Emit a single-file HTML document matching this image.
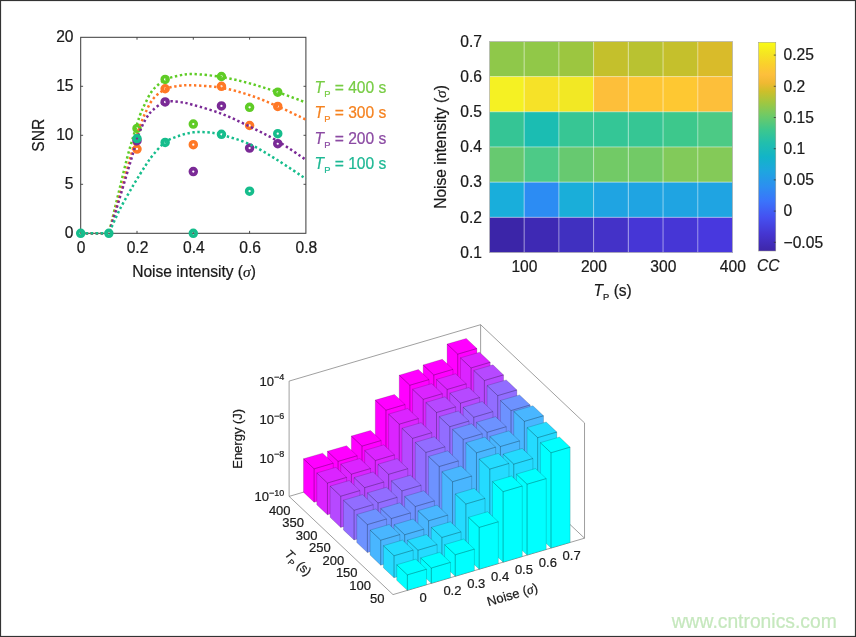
<!DOCTYPE html>
<html lang="en"><head><meta charset="utf-8"><title>Figure</title>
<style>html,body{margin:0;padding:0;background:#fff;}svg{display:block;font-family:'Liberation Sans', Arial, Helvetica, sans-serif;will-change:transform;}</style></head><body>
<svg width="856" height="637" viewBox="0 0 856 637">
<rect x="0" y="0" width="856" height="637" fill="#fff"/>
<g id="snr">
<rect x="80.7" y="37.3" width="225.2" height="196.0" fill="none" stroke="#3a3a3a" stroke-width="1"/>
<path d="M137.0 233.3v-2.4M137.0 37.3v2.4M193.3 233.3v-2.4M193.3 37.3v2.4M249.6 233.3v-2.4M249.6 37.3v2.4M80.7 184.3h2.4M305.9 184.3h-2.4M80.7 135.3h2.4M305.9 135.3h-2.4M80.7 86.3h2.4M305.9 86.3h-2.4" stroke="#3a3a3a" stroke-width="0.9" fill="none"/>
<text x="81.2" y="253.2" font-size="15.6" text-anchor="middle" fill="#1a1a1a" stroke="#1a1a1a" stroke-width="0.22">0</text>
<text x="137.5" y="253.2" font-size="15.6" text-anchor="middle" fill="#1a1a1a" stroke="#1a1a1a" stroke-width="0.22">0.2</text>
<text x="193.8" y="253.2" font-size="15.6" text-anchor="middle" fill="#1a1a1a" stroke="#1a1a1a" stroke-width="0.22">0.4</text>
<text x="250.1" y="253.2" font-size="15.6" text-anchor="middle" fill="#1a1a1a" stroke="#1a1a1a" stroke-width="0.22">0.6</text>
<text x="306.4" y="253.2" font-size="15.6" text-anchor="middle" fill="#1a1a1a" stroke="#1a1a1a" stroke-width="0.22">0.8</text>
<text x="73.5" y="238.2" font-size="15.6" text-anchor="end" fill="#1a1a1a" stroke="#1a1a1a" stroke-width="0.22">0</text>
<text x="73.5" y="189.2" font-size="15.6" text-anchor="end" fill="#1a1a1a" stroke="#1a1a1a" stroke-width="0.22">5</text>
<text x="73.5" y="140.2" font-size="15.6" text-anchor="end" fill="#1a1a1a" stroke="#1a1a1a" stroke-width="0.22">10</text>
<text x="73.5" y="91.2" font-size="15.6" text-anchor="end" fill="#1a1a1a" stroke="#1a1a1a" stroke-width="0.22">15</text>
<text x="73.5" y="42.2" font-size="15.6" text-anchor="end" fill="#1a1a1a" stroke="#1a1a1a" stroke-width="0.22">20</text>
<text x="194" y="277.2" font-size="15.6" text-anchor="middle" fill="#1a1a1a" stroke="#1a1a1a" stroke-width="0.22">Noise intensity (<tspan font-family="'Liberation Serif','DejaVu Serif',serif" font-style="italic" font-size="15.4">σ</tspan>)</text>
<text transform="translate(44.3 135.3) rotate(-90)" font-size="15.6" text-anchor="middle" fill="#1a1a1a" stroke="#1a1a1a" stroke-width="0.22">SNR</text>
<path d="M80.70 233.30L108.85 233.30C109.84 229.22 112.79 216.97 114.76 208.80C116.73 200.63 118.61 192.79 120.67 184.30C122.74 175.81 124.99 166.01 127.15 157.84C129.31 149.67 131.51 142.32 133.62 135.30C135.73 128.28 137.84 121.09 139.81 115.70C141.79 110.31 143.24 107.29 145.44 102.96C147.65 98.63 149.76 93.57 153.05 89.73C156.33 85.89 160.79 82.30 165.15 79.93C169.51 77.56 174.53 76.50 179.22 75.52C183.92 74.54 186.26 73.81 193.30 74.05C200.34 74.30 212.07 75.44 221.45 76.99C230.83 78.54 240.22 80.83 249.60 83.36C258.98 85.89 268.37 89.00 277.75 92.18C287.13 95.37 301.21 100.76 305.90 102.47" fill="none" stroke="#5fcc26" stroke-width="2.5" stroke-dasharray="2.4 2.6"/>
<circle cx="137.00" cy="128.44" r="2.95" fill="none" stroke="#5fcc26" stroke-width="3.6"/>
<circle cx="165.15" cy="79.44" r="2.95" fill="none" stroke="#5fcc26" stroke-width="3.6"/>
<circle cx="193.30" cy="124.03" r="2.95" fill="none" stroke="#5fcc26" stroke-width="3.6"/>
<circle cx="221.45" cy="76.50" r="2.95" fill="none" stroke="#5fcc26" stroke-width="3.6"/>
<circle cx="249.60" cy="107.37" r="2.95" fill="none" stroke="#5fcc26" stroke-width="3.6"/>
<circle cx="277.75" cy="92.18" r="2.95" fill="none" stroke="#5fcc26" stroke-width="3.6"/>
<path d="M80.70 233.30L108.85 233.30C110.02 229.22 113.54 216.97 115.89 208.80C118.23 200.63 120.58 192.63 122.92 184.30C125.27 175.97 127.62 166.99 129.96 158.82C132.31 150.65 135.36 140.69 137.00 135.30C138.64 129.91 138.41 130.24 139.81 126.48C141.22 122.72 143.24 117.33 145.44 112.76C147.65 108.19 149.76 102.96 153.05 99.04C156.33 95.12 160.79 91.45 165.15 89.24C169.51 87.04 174.53 86.46 179.22 85.81C183.92 85.16 186.26 84.99 193.30 85.32C200.34 85.65 212.07 86.14 221.45 87.77C230.83 89.40 240.22 92.02 249.60 95.12C258.98 98.22 268.37 102.31 277.75 106.39C287.13 110.47 301.21 117.42 305.90 119.62" fill="none" stroke="#ff7826" stroke-width="2.5" stroke-dasharray="2.4 2.6"/>
<circle cx="137.00" cy="149.02" r="2.95" fill="none" stroke="#ff7826" stroke-width="3.6"/>
<circle cx="165.15" cy="88.75" r="2.95" fill="none" stroke="#ff7826" stroke-width="3.6"/>
<circle cx="193.30" cy="144.71" r="2.95" fill="none" stroke="#ff7826" stroke-width="3.6"/>
<circle cx="221.45" cy="86.30" r="2.95" fill="none" stroke="#ff7826" stroke-width="3.6"/>
<circle cx="249.60" cy="125.50" r="2.95" fill="none" stroke="#ff7826" stroke-width="3.6"/>
<circle cx="277.75" cy="106.39" r="2.95" fill="none" stroke="#ff7826" stroke-width="3.6"/>
<path d="M80.70 233.30L108.85 233.30C110.12 229.22 113.96 216.97 116.45 208.80C118.94 200.63 121.28 192.63 123.77 184.30C126.26 175.97 128.93 166.99 131.37 158.82C133.81 150.65 136.06 141.83 138.41 135.30C140.75 128.77 143.01 123.87 145.44 119.62C147.88 115.37 149.76 112.76 153.05 109.82C156.33 106.88 160.79 103.29 165.15 101.98C169.51 100.67 174.53 101.49 179.22 101.98C183.92 102.47 186.26 102.96 193.30 104.92C200.34 106.88 212.07 110.15 221.45 113.74C230.83 117.33 240.22 121.91 249.60 126.48C258.98 131.05 268.37 135.63 277.75 141.18C287.13 146.73 301.21 156.70 305.90 159.80" fill="none" stroke="#7a2a96" stroke-width="2.5" stroke-dasharray="2.4 2.6"/>
<circle cx="137.00" cy="140.69" r="2.95" fill="none" stroke="#7a2a96" stroke-width="3.6"/>
<circle cx="165.15" cy="101.98" r="2.95" fill="none" stroke="#7a2a96" stroke-width="3.6"/>
<circle cx="193.30" cy="171.56" r="2.95" fill="none" stroke="#7a2a96" stroke-width="3.6"/>
<circle cx="221.45" cy="105.90" r="2.95" fill="none" stroke="#7a2a96" stroke-width="3.6"/>
<circle cx="249.60" cy="148.04" r="2.95" fill="none" stroke="#7a2a96" stroke-width="3.6"/>
<circle cx="277.75" cy="143.63" r="2.95" fill="none" stroke="#7a2a96" stroke-width="3.6"/>
<path d="M80.70 233.30L108.85 233.30C110.73 229.22 115.93 216.97 120.11 208.80C124.29 200.63 129.68 191.49 133.90 184.30C138.13 177.11 142.25 170.58 145.44 165.68C148.64 160.78 149.76 158.82 153.05 154.90C156.33 150.98 160.79 145.34 165.15 142.16C169.51 138.97 174.53 137.42 179.22 135.79C183.92 134.16 188.61 132.93 193.30 132.36C197.99 131.79 202.68 131.95 207.38 132.36C212.07 132.77 214.41 132.85 221.45 134.81C228.49 136.77 240.22 139.87 249.60 144.12C258.98 148.37 268.37 154.49 277.75 160.29C287.13 166.09 301.21 175.81 305.90 178.91" fill="none" stroke="#16bd8c" stroke-width="2.5" stroke-dasharray="2.4 2.6"/>
<circle cx="80.70" cy="233.30" r="2.95" fill="none" stroke="#16bd8c" stroke-width="3.6"/>
<circle cx="108.85" cy="233.30" r="2.95" fill="none" stroke="#16bd8c" stroke-width="3.6"/>
<circle cx="137.00" cy="138.53" r="2.95" fill="none" stroke="#16bd8c" stroke-width="3.6"/>
<circle cx="165.15" cy="142.45" r="2.95" fill="none" stroke="#16bd8c" stroke-width="3.6"/>
<circle cx="193.30" cy="233.30" r="2.95" fill="none" stroke="#16bd8c" stroke-width="3.6"/>
<circle cx="221.45" cy="134.32" r="2.95" fill="none" stroke="#16bd8c" stroke-width="3.6"/>
<circle cx="249.60" cy="191.16" r="2.95" fill="none" stroke="#16bd8c" stroke-width="3.6"/>
<circle cx="277.75" cy="133.63" r="2.95" fill="none" stroke="#16bd8c" stroke-width="3.6"/>
<text x="314.6" y="93.0" font-size="15.6" fill="#77cc44" stroke="#77cc44" stroke-width="0.22"><tspan font-style="italic">T</tspan><tspan font-size="9.4" dy="3.8">P</tspan><tspan dy="-3.8"> = 400 s</tspan></text>
<text x="314.6" y="118.4" font-size="15.6" fill="#f5821f" stroke="#f5821f" stroke-width="0.22"><tspan font-style="italic">T</tspan><tspan font-size="9.4" dy="3.8">P</tspan><tspan dy="-3.8"> = 300 s</tspan></text>
<text x="314.6" y="143.8" font-size="15.6" fill="#8b4aa3" stroke="#8b4aa3" stroke-width="0.22"><tspan font-style="italic">T</tspan><tspan font-size="9.4" dy="3.8">P</tspan><tspan dy="-3.8"> = 200 s</tspan></text>
<text x="314.6" y="169.2" font-size="15.6" fill="#1db894" stroke="#1db894" stroke-width="0.22"><tspan font-style="italic">T</tspan><tspan font-size="9.4" dy="3.8">P</tspan><tspan dy="-3.8"> = 100 s</tspan></text>
</g>
<g id="heat">
<rect x="489.40" y="41.40" width="35.03" height="35.48" fill="#8fc84a"/>
<rect x="524.13" y="41.40" width="35.03" height="35.48" fill="#91c848"/>
<rect x="558.86" y="41.40" width="35.03" height="35.48" fill="#9cc640"/>
<rect x="593.59" y="41.40" width="35.03" height="35.48" fill="#c4c02c"/>
<rect x="628.31" y="41.40" width="35.03" height="35.48" fill="#b9c231"/>
<rect x="663.04" y="41.40" width="35.03" height="35.48" fill="#c5c02c"/>
<rect x="697.77" y="41.40" width="35.03" height="35.48" fill="#d9bb2a"/>
<rect x="489.40" y="76.58" width="35.03" height="35.48" fill="#f5f123"/>
<rect x="524.13" y="76.58" width="35.03" height="35.48" fill="#f6e228"/>
<rect x="558.86" y="76.58" width="35.03" height="35.48" fill="#f2e824"/>
<rect x="593.59" y="76.58" width="35.03" height="35.48" fill="#fdbf3a"/>
<rect x="628.31" y="76.58" width="35.03" height="35.48" fill="#fec634"/>
<rect x="663.04" y="76.58" width="35.03" height="35.48" fill="#fec832"/>
<rect x="697.77" y="76.58" width="35.03" height="35.48" fill="#fdbf3a"/>
<rect x="489.40" y="111.77" width="35.03" height="35.48" fill="#35c595"/>
<rect x="524.13" y="111.77" width="35.03" height="35.48" fill="#1bbdb2"/>
<rect x="558.86" y="111.77" width="35.03" height="35.48" fill="#37c694"/>
<rect x="593.59" y="111.77" width="35.03" height="35.48" fill="#34c696"/>
<rect x="628.31" y="111.77" width="35.03" height="35.48" fill="#36c694"/>
<rect x="663.04" y="111.77" width="35.03" height="35.48" fill="#3dc88c"/>
<rect x="697.77" y="111.77" width="35.03" height="35.48" fill="#4cca85"/>
<rect x="489.40" y="146.95" width="35.03" height="35.48" fill="#67c970"/>
<rect x="524.13" y="146.95" width="35.03" height="35.48" fill="#4dca87"/>
<rect x="558.86" y="146.95" width="35.03" height="35.48" fill="#67c970"/>
<rect x="593.59" y="146.95" width="35.03" height="35.48" fill="#72ca66"/>
<rect x="628.31" y="146.95" width="35.03" height="35.48" fill="#72ca66"/>
<rect x="663.04" y="146.95" width="35.03" height="35.48" fill="#82ca5a"/>
<rect x="697.77" y="146.95" width="35.03" height="35.48" fill="#84ca58"/>
<rect x="489.40" y="182.13" width="35.03" height="35.48" fill="#19aedb"/>
<rect x="524.13" y="182.13" width="35.03" height="35.48" fill="#2c8cf3"/>
<rect x="558.86" y="182.13" width="35.03" height="35.48" fill="#1aaed9"/>
<rect x="593.59" y="182.13" width="35.03" height="35.48" fill="#1fa4e2"/>
<rect x="628.31" y="182.13" width="35.03" height="35.48" fill="#1fa4e2"/>
<rect x="663.04" y="182.13" width="35.03" height="35.48" fill="#1fa4e2"/>
<rect x="697.77" y="182.13" width="35.03" height="35.48" fill="#1fa4e2"/>
<rect x="489.40" y="217.32" width="35.03" height="35.48" fill="#3b25a8"/>
<rect x="524.13" y="217.32" width="35.03" height="35.48" fill="#3e29b4"/>
<rect x="558.86" y="217.32" width="35.03" height="35.48" fill="#4030c0"/>
<rect x="593.59" y="217.32" width="35.03" height="35.48" fill="#4432c8"/>
<rect x="628.31" y="217.32" width="35.03" height="35.48" fill="#4636d6"/>
<rect x="663.04" y="217.32" width="35.03" height="35.48" fill="#4636d6"/>
<rect x="697.77" y="217.32" width="35.03" height="35.48" fill="#4838de"/>
<path d="M524.13 41.40V252.50M558.86 41.40V252.50M593.59 41.40V252.50M628.31 41.40V252.50M663.04 41.40V252.50M697.77 41.40V252.50M489.40 76.58H732.50M489.40 111.77H732.50M489.40 146.95H732.50M489.40 182.13H732.50M489.40 217.32H732.50" stroke="#fff" stroke-opacity="0.55" stroke-width="0.9" fill="none"/>
<rect x="489.40" y="41.40" width="243.10" height="211.10" fill="none" stroke="#b8b8b8" stroke-width="0.8"/>
<text x="524.4" y="272" font-size="15.6" text-anchor="middle" fill="#1a1a1a" stroke="#1a1a1a" stroke-width="0.22">100</text>
<text x="593.9" y="272" font-size="15.6" text-anchor="middle" fill="#1a1a1a" stroke="#1a1a1a" stroke-width="0.22">200</text>
<text x="663.3" y="272" font-size="15.6" text-anchor="middle" fill="#1a1a1a" stroke="#1a1a1a" stroke-width="0.22">300</text>
<text x="732.8" y="272" font-size="15.6" text-anchor="middle" fill="#1a1a1a" stroke="#1a1a1a" stroke-width="0.22">400</text>
<text x="482" y="46.7" font-size="15.6" text-anchor="end" fill="#1a1a1a" stroke="#1a1a1a" stroke-width="0.22">0.7</text>
<text x="482" y="81.9" font-size="15.6" text-anchor="end" fill="#1a1a1a" stroke="#1a1a1a" stroke-width="0.22">0.6</text>
<text x="482" y="117.1" font-size="15.6" text-anchor="end" fill="#1a1a1a" stroke="#1a1a1a" stroke-width="0.22">0.5</text>
<text x="482" y="152.2" font-size="15.6" text-anchor="end" fill="#1a1a1a" stroke="#1a1a1a" stroke-width="0.22">0.4</text>
<text x="482" y="187.4" font-size="15.6" text-anchor="end" fill="#1a1a1a" stroke="#1a1a1a" stroke-width="0.22">0.3</text>
<text x="482" y="222.6" font-size="15.6" text-anchor="end" fill="#1a1a1a" stroke="#1a1a1a" stroke-width="0.22">0.2</text>
<text x="482" y="257.8" font-size="15.6" text-anchor="end" fill="#1a1a1a" stroke="#1a1a1a" stroke-width="0.22">0.1</text>
<text x="593.5" y="296.3" font-size="15.6" fill="#1a1a1a" stroke="#1a1a1a" stroke-width="0.22"><tspan font-style="italic">T</tspan><tspan font-size="9.4" dy="3.8">P</tspan><tspan dy="-3.8"> (s)</tspan></text>
<text transform="translate(445.8 147) rotate(-90)" font-size="15.6" text-anchor="middle" fill="#1a1a1a" stroke="#1a1a1a" stroke-width="0.22">Noise intensity (<tspan font-family="'Liberation Serif','DejaVu Serif',serif" font-style="italic" font-size="15.4">σ</tspan>)</text>
<defs><linearGradient id="par" x1="0" y1="1" x2="0" y2="0">
<stop offset="0.000" stop-color="#3e26a8"/>
<stop offset="0.080" stop-color="#4535d0"/>
<stop offset="0.160" stop-color="#4550f0"/>
<stop offset="0.240" stop-color="#3a74fb"/>
<stop offset="0.310" stop-color="#2c8ff0"/>
<stop offset="0.380" stop-color="#1fa5e0"/>
<stop offset="0.450" stop-color="#12b4c8"/>
<stop offset="0.520" stop-color="#22bfac"/>
<stop offset="0.580" stop-color="#3cc78e"/>
<stop offset="0.650" stop-color="#6fca66"/>
<stop offset="0.710" stop-color="#9fc741"/>
<stop offset="0.765" stop-color="#cdbf2a"/>
<stop offset="0.805" stop-color="#f0b932"/>
<stop offset="0.845" stop-color="#fdbf3c"/>
<stop offset="0.895" stop-color="#fad02c"/>
<stop offset="0.945" stop-color="#f5e522"/>
<stop offset="1.000" stop-color="#f9fb15"/>
</linearGradient></defs>
<rect x="758.6" y="42.3" width="17.2" height="208.7" fill="url(#par)" stroke="#9a9a8a" stroke-width="0.5"/>
<text x="783.6" y="60.4" font-size="15.6" fill="#1a1a1a" stroke="#1a1a1a" stroke-width="0.22">0.25</text>
<text x="783.6" y="91.6" font-size="15.6" fill="#1a1a1a" stroke="#1a1a1a" stroke-width="0.22">0.2</text>
<text x="783.6" y="122.8" font-size="15.6" fill="#1a1a1a" stroke="#1a1a1a" stroke-width="0.22">0.15</text>
<text x="783.6" y="154.0" font-size="15.6" fill="#1a1a1a" stroke="#1a1a1a" stroke-width="0.22">0.1</text>
<text x="783.6" y="185.2" font-size="15.6" fill="#1a1a1a" stroke="#1a1a1a" stroke-width="0.22">0.05</text>
<text x="783.6" y="216.4" font-size="15.6" fill="#1a1a1a" stroke="#1a1a1a" stroke-width="0.22">0</text>
<text x="783.6" y="247.6" font-size="15.6" fill="#1a1a1a" stroke="#1a1a1a" stroke-width="0.22">−0.05</text>
<path d="M775.8 55.1h-2M775.8 86.3h-2M775.8 117.5h-2M775.8 148.7h-2M775.8 179.9h-2M775.8 211.1h-2M775.8 242.3h-2" stroke="#333" stroke-width="0.8" fill="none"/>
<text x="757" y="270.6" font-size="15.6" font-style="italic" fill="#1a1a1a" stroke="#1a1a1a" stroke-width="0.22">CC</text>
</g>
<g id="bar3">
<path d="M289.10 496.40L289.10 381.10L480.62 324.70L584.52 422.90L584.52 538.20L393.00 594.60ZM480.62 324.70L480.62 440.00M289.10 496.40L480.62 440.00L584.52 538.20" fill="none" stroke="#808080" stroke-width="0.75" stroke-linejoin="round"/>
<path d="M457.76 354.14L476.92 348.50L466.26 338.43L447.11 344.07ZM447.11 449.87L457.76 459.94L457.76 354.14L447.11 344.07ZM457.76 459.94L476.92 454.30L476.92 348.50L457.76 354.14Z" fill="rgb(255,0,255)" stroke="#000" stroke-opacity="0.34" stroke-width="0.45" stroke-linejoin="round"/>
<path d="M433.82 374.99L452.98 369.35L442.32 359.28L423.17 364.92ZM423.17 456.92L433.82 466.99L433.82 374.99L423.17 364.92ZM433.82 466.99L452.98 461.35L452.98 369.35L433.82 374.99Z" fill="rgb(255,0,255)" stroke="#000" stroke-opacity="0.34" stroke-width="0.45" stroke-linejoin="round"/>
<path d="M409.88 385.24L429.04 379.60L418.38 369.53L399.23 375.17ZM399.23 463.97L409.88 474.04L409.88 385.24L399.23 375.17ZM409.88 474.04L429.04 468.40L429.04 379.60L409.88 385.24Z" fill="rgb(255,0,255)" stroke="#000" stroke-opacity="0.34" stroke-width="0.45" stroke-linejoin="round"/>
<path d="M385.94 410.19L405.10 404.55L394.44 394.48L375.29 400.12ZM375.29 471.02L385.94 481.09L385.94 410.19L375.29 400.12ZM385.94 481.09L405.10 475.45L405.10 404.55L385.94 410.19Z" fill="rgb(255,0,255)" stroke="#000" stroke-opacity="0.34" stroke-width="0.45" stroke-linejoin="round"/>
<path d="M362.00 446.14L381.16 440.50L370.50 430.43L351.35 436.07ZM351.35 478.07L362.00 488.14L362.00 446.14L351.35 436.07ZM362.00 488.14L381.16 482.50L381.16 440.50L362.00 446.14Z" fill="rgb(255,0,255)" stroke="#000" stroke-opacity="0.34" stroke-width="0.45" stroke-linejoin="round"/>
<path d="M338.06 461.39L357.22 455.75L346.56 445.68L327.41 451.32ZM327.41 485.12L338.06 495.19L338.06 461.39L327.41 451.32ZM338.06 495.19L357.22 489.55L357.22 455.75L338.06 461.39Z" fill="rgb(255,0,255)" stroke="#000" stroke-opacity="0.34" stroke-width="0.45" stroke-linejoin="round"/>
<path d="M314.12 468.84L333.28 463.20L322.62 453.13L303.47 458.77ZM303.47 492.17L314.12 502.24L314.12 468.84L303.47 458.77ZM314.12 502.24L333.28 496.60L333.28 463.20L314.12 468.84Z" fill="rgb(255,0,255)" stroke="#000" stroke-opacity="0.34" stroke-width="0.45" stroke-linejoin="round"/>
<path d="M471.08 367.93L490.24 362.29L479.58 352.22L460.43 357.86ZM460.43 462.46L471.08 472.53L471.08 367.93L460.43 357.86ZM471.08 472.53L490.24 466.89L490.24 362.29L471.08 367.93Z" fill="rgb(219,36,255)" stroke="#000" stroke-opacity="0.34" stroke-width="0.45" stroke-linejoin="round"/>
<path d="M447.14 389.48L466.30 383.84L455.64 373.77L436.49 379.41ZM436.49 469.51L447.14 479.58L447.14 389.48L436.49 379.41ZM447.14 479.58L466.30 473.94L466.30 383.84L447.14 389.48Z" fill="rgb(219,36,255)" stroke="#000" stroke-opacity="0.34" stroke-width="0.45" stroke-linejoin="round"/>
<path d="M423.20 399.33L442.36 393.69L431.70 383.62L412.55 389.26ZM412.55 476.56L423.20 486.63L423.20 399.33L412.55 389.26ZM423.20 486.63L442.36 480.99L442.36 393.69L423.20 399.33Z" fill="rgb(219,36,255)" stroke="#000" stroke-opacity="0.34" stroke-width="0.45" stroke-linejoin="round"/>
<path d="M399.26 424.18L418.42 418.54L407.76 408.47L388.61 414.11ZM388.61 483.61L399.26 493.68L399.26 424.18L388.61 414.11ZM399.26 493.68L418.42 488.04L418.42 418.54L399.26 424.18Z" fill="rgb(219,36,255)" stroke="#000" stroke-opacity="0.34" stroke-width="0.45" stroke-linejoin="round"/>
<path d="M375.32 460.53L394.48 454.89L383.82 444.82L364.67 450.46ZM364.67 490.66L375.32 500.73L375.32 460.53L364.67 450.46ZM375.32 500.73L394.48 495.09L394.48 454.89L375.32 460.53Z" fill="rgb(219,36,255)" stroke="#000" stroke-opacity="0.34" stroke-width="0.45" stroke-linejoin="round"/>
<path d="M351.38 474.18L370.54 468.54L359.88 458.47L340.73 464.11ZM340.73 497.71L351.38 507.78L351.38 474.18L340.73 464.11ZM351.38 507.78L370.54 502.14L370.54 468.54L351.38 474.18Z" fill="rgb(219,36,255)" stroke="#000" stroke-opacity="0.34" stroke-width="0.45" stroke-linejoin="round"/>
<path d="M327.44 483.03L346.60 477.39L335.94 467.32L316.79 472.96ZM316.79 504.76L327.44 514.83L327.44 483.03L316.79 472.96ZM327.44 514.83L346.60 509.19L346.60 477.39L327.44 483.03Z" fill="rgb(219,36,255)" stroke="#000" stroke-opacity="0.34" stroke-width="0.45" stroke-linejoin="round"/>
<path d="M484.40 380.52L503.56 374.88L492.90 364.81L473.75 370.45ZM473.75 475.05L484.40 485.12L484.40 380.52L473.75 370.45ZM484.40 485.12L503.56 479.48L503.56 374.88L484.40 380.52Z" fill="rgb(182,73,255)" stroke="#000" stroke-opacity="0.34" stroke-width="0.45" stroke-linejoin="round"/>
<path d="M460.46 403.17L479.62 397.53L468.96 387.46L449.81 393.10ZM449.81 482.10L460.46 492.17L460.46 403.17L449.81 393.10ZM460.46 492.17L479.62 486.53L479.62 397.53L460.46 403.17Z" fill="rgb(182,73,255)" stroke="#000" stroke-opacity="0.34" stroke-width="0.45" stroke-linejoin="round"/>
<path d="M436.52 412.52L455.68 406.88L445.02 396.81L425.87 402.45ZM425.87 489.15L436.52 499.22L436.52 412.52L425.87 402.45ZM436.52 499.22L455.68 493.58L455.68 406.88L436.52 412.52Z" fill="rgb(182,73,255)" stroke="#000" stroke-opacity="0.34" stroke-width="0.45" stroke-linejoin="round"/>
<path d="M412.58 438.37L431.74 432.73L421.08 422.66L401.93 428.30ZM401.93 496.20L412.58 506.27L412.58 438.37L401.93 428.30ZM412.58 506.27L431.74 500.63L431.74 432.73L412.58 438.37Z" fill="rgb(182,73,255)" stroke="#000" stroke-opacity="0.34" stroke-width="0.45" stroke-linejoin="round"/>
<path d="M388.64 474.32L407.80 468.68L397.14 458.61L377.99 464.25ZM377.99 503.25L388.64 513.32L388.64 474.32L377.99 464.25ZM388.64 513.32L407.80 507.68L407.80 468.68L388.64 474.32Z" fill="rgb(182,73,255)" stroke="#000" stroke-opacity="0.34" stroke-width="0.45" stroke-linejoin="round"/>
<path d="M364.70 487.67L383.86 482.03L373.20 471.96L354.05 477.60ZM354.05 510.30L364.70 520.37L364.70 487.67L354.05 477.60ZM364.70 520.37L383.86 514.73L383.86 482.03L364.70 487.67Z" fill="rgb(182,73,255)" stroke="#000" stroke-opacity="0.34" stroke-width="0.45" stroke-linejoin="round"/>
<path d="M340.76 496.22L359.92 490.58L349.26 480.51L330.11 486.15ZM330.11 517.35L340.76 527.42L340.76 496.22L330.11 486.15ZM340.76 527.42L359.92 521.78L359.92 490.58L340.76 496.22Z" fill="rgb(182,73,255)" stroke="#000" stroke-opacity="0.34" stroke-width="0.45" stroke-linejoin="round"/>
<path d="M497.72 395.61L516.88 389.97L506.22 379.90L487.07 385.54ZM487.07 487.64L497.72 497.71L497.72 395.61L487.07 385.54ZM497.72 497.71L516.88 492.07L516.88 389.97L497.72 395.61Z" fill="rgb(146,109,255)" stroke="#000" stroke-opacity="0.34" stroke-width="0.45" stroke-linejoin="round"/>
<path d="M473.78 417.26L492.94 411.62L482.28 401.55L463.13 407.19ZM463.13 494.69L473.78 504.76L473.78 417.26L463.13 407.19ZM473.78 504.76L492.94 499.12L492.94 411.62L473.78 417.26Z" fill="rgb(146,109,255)" stroke="#000" stroke-opacity="0.34" stroke-width="0.45" stroke-linejoin="round"/>
<path d="M449.84 426.71L469.00 421.07L458.34 411.00L439.19 416.64ZM439.19 501.74L449.84 511.81L449.84 426.71L439.19 416.64ZM449.84 511.81L469.00 506.17L469.00 421.07L449.84 426.71Z" fill="rgb(146,109,255)" stroke="#000" stroke-opacity="0.34" stroke-width="0.45" stroke-linejoin="round"/>
<path d="M425.90 452.46L445.06 446.82L434.40 436.75L415.25 442.39ZM415.25 508.79L425.90 518.86L425.90 452.46L415.25 442.39ZM425.90 518.86L445.06 513.22L445.06 446.82L425.90 452.46Z" fill="rgb(146,109,255)" stroke="#000" stroke-opacity="0.34" stroke-width="0.45" stroke-linejoin="round"/>
<path d="M401.96 490.91L421.12 485.27L410.46 475.20L391.31 480.84ZM391.31 515.84L401.96 525.91L401.96 490.91L391.31 480.84ZM401.96 525.91L421.12 520.27L421.12 485.27L401.96 490.91Z" fill="rgb(146,109,255)" stroke="#000" stroke-opacity="0.34" stroke-width="0.45" stroke-linejoin="round"/>
<path d="M378.02 502.96L397.18 497.32L386.52 487.25L367.37 492.89ZM367.37 522.89L378.02 532.96L378.02 502.96L367.37 492.89ZM378.02 532.96L397.18 527.32L397.18 497.32L378.02 502.96Z" fill="rgb(146,109,255)" stroke="#000" stroke-opacity="0.34" stroke-width="0.45" stroke-linejoin="round"/>
<path d="M354.08 510.31L373.24 504.67L362.58 494.60L343.43 500.24ZM343.43 529.94L354.08 540.01L354.08 510.31L343.43 500.24ZM354.08 540.01L373.24 534.37L373.24 504.67L354.08 510.31Z" fill="rgb(146,109,255)" stroke="#000" stroke-opacity="0.34" stroke-width="0.45" stroke-linejoin="round"/>
<path d="M511.04 410.60L530.20 404.96L519.54 394.89L500.39 400.53ZM500.39 500.23L511.04 510.30L511.04 410.60L500.39 400.53ZM511.04 510.30L530.20 504.66L530.20 404.96L511.04 410.60Z" fill="rgb(109,146,255)" stroke="#000" stroke-opacity="0.34" stroke-width="0.45" stroke-linejoin="round"/>
<path d="M487.10 432.35L506.26 426.71L495.60 416.64L476.45 422.28ZM476.45 507.28L487.10 517.35L487.10 432.35L476.45 422.28ZM487.10 517.35L506.26 511.71L506.26 426.71L487.10 432.35Z" fill="rgb(109,146,255)" stroke="#000" stroke-opacity="0.34" stroke-width="0.45" stroke-linejoin="round"/>
<path d="M463.16 439.40L482.32 433.76L471.66 423.69L452.51 429.33ZM452.51 514.33L463.16 524.40L463.16 439.40L452.51 429.33ZM463.16 524.40L482.32 518.76L482.32 433.76L463.16 439.40Z" fill="rgb(109,146,255)" stroke="#000" stroke-opacity="0.34" stroke-width="0.45" stroke-linejoin="round"/>
<path d="M439.22 466.55L458.38 460.91L447.72 450.84L428.57 456.48ZM428.57 521.38L439.22 531.45L439.22 466.55L428.57 456.48ZM439.22 531.45L458.38 525.81L458.38 460.91L439.22 466.55Z" fill="rgb(109,146,255)" stroke="#000" stroke-opacity="0.34" stroke-width="0.45" stroke-linejoin="round"/>
<path d="M415.28 506.50L434.44 500.86L423.78 490.79L404.63 496.43ZM404.63 528.43L415.28 538.50L415.28 506.50L404.63 496.43ZM415.28 538.50L434.44 532.86L434.44 500.86L415.28 506.50Z" fill="rgb(109,146,255)" stroke="#000" stroke-opacity="0.34" stroke-width="0.45" stroke-linejoin="round"/>
<path d="M391.34 518.55L410.50 512.91L399.84 502.84L380.69 508.48ZM380.69 535.48L391.34 545.55L391.34 518.55L380.69 508.48ZM391.34 545.55L410.50 539.91L410.50 512.91L391.34 518.55Z" fill="rgb(109,146,255)" stroke="#000" stroke-opacity="0.34" stroke-width="0.45" stroke-linejoin="round"/>
<path d="M367.40 524.60L386.56 518.96L375.90 508.89L356.75 514.53ZM356.75 542.53L367.40 552.60L367.40 524.60L356.75 514.53ZM367.40 552.60L386.56 546.96L386.56 518.96L367.40 524.60Z" fill="rgb(109,146,255)" stroke="#000" stroke-opacity="0.34" stroke-width="0.45" stroke-linejoin="round"/>
<path d="M524.36 421.39L543.52 415.75L532.86 405.68L513.71 411.32ZM513.71 512.82L524.36 522.89L524.36 421.39L513.71 411.32ZM524.36 522.89L543.52 517.25L543.52 415.75L524.36 421.39Z" fill="rgb(73,182,255)" stroke="#000" stroke-opacity="0.34" stroke-width="0.45" stroke-linejoin="round"/>
<path d="M500.42 446.54L519.58 440.90L508.92 430.83L489.77 436.47ZM489.77 519.87L500.42 529.94L500.42 446.54L489.77 436.47ZM500.42 529.94L519.58 524.30L519.58 440.90L500.42 446.54Z" fill="rgb(73,182,255)" stroke="#000" stroke-opacity="0.34" stroke-width="0.45" stroke-linejoin="round"/>
<path d="M476.48 452.79L495.64 447.15L484.98 437.08L465.83 442.72ZM465.83 526.92L476.48 536.99L476.48 452.79L465.83 442.72ZM476.48 536.99L495.64 531.35L495.64 447.15L476.48 452.79Z" fill="rgb(73,182,255)" stroke="#000" stroke-opacity="0.34" stroke-width="0.45" stroke-linejoin="round"/>
<path d="M452.54 481.74L471.70 476.10L461.04 466.03L441.89 471.67ZM441.89 533.97L452.54 544.04L452.54 481.74L441.89 471.67ZM452.54 544.04L471.70 538.40L471.70 476.10L452.54 481.74Z" fill="rgb(73,182,255)" stroke="#000" stroke-opacity="0.34" stroke-width="0.45" stroke-linejoin="round"/>
<path d="M428.60 520.79L447.76 515.15L437.10 505.08L417.95 510.72ZM417.95 541.02L428.60 551.09L428.60 520.79L417.95 510.72ZM428.60 551.09L447.76 545.45L447.76 515.15L428.60 520.79Z" fill="rgb(73,182,255)" stroke="#000" stroke-opacity="0.34" stroke-width="0.45" stroke-linejoin="round"/>
<path d="M404.66 534.74L423.82 529.10L413.16 519.03L394.01 524.67ZM394.01 548.07L404.66 558.14L404.66 534.74L394.01 524.67ZM404.66 558.14L423.82 552.50L423.82 529.10L404.66 534.74Z" fill="rgb(73,182,255)" stroke="#000" stroke-opacity="0.34" stroke-width="0.45" stroke-linejoin="round"/>
<path d="M380.72 540.19L399.88 534.55L389.22 524.48L370.07 530.12ZM370.07 555.12L380.72 565.19L380.72 540.19L370.07 530.12ZM380.72 565.19L399.88 559.55L399.88 534.55L380.72 540.19Z" fill="rgb(73,182,255)" stroke="#000" stroke-opacity="0.34" stroke-width="0.45" stroke-linejoin="round"/>
<path d="M537.68 437.68L556.84 432.04L546.18 421.97L527.03 427.61ZM527.03 525.41L537.68 535.48L537.68 437.68L527.03 427.61ZM537.68 535.48L556.84 529.84L556.84 432.04L537.68 437.68Z" fill="rgb(36,219,255)" stroke="#000" stroke-opacity="0.34" stroke-width="0.45" stroke-linejoin="round"/>
<path d="M513.74 464.13L532.90 458.49L522.24 448.42L503.09 454.06ZM503.09 532.46L513.74 542.53L513.74 464.13L503.09 454.06ZM513.74 542.53L532.90 536.89L532.90 458.49L513.74 464.13Z" fill="rgb(36,219,255)" stroke="#000" stroke-opacity="0.34" stroke-width="0.45" stroke-linejoin="round"/>
<path d="M489.80 469.08L508.96 463.44L498.30 453.37L479.15 459.01ZM479.15 539.51L489.80 549.58L489.80 469.08L479.15 459.01ZM489.80 549.58L508.96 543.94L508.96 463.44L489.80 469.08Z" fill="rgb(36,219,255)" stroke="#000" stroke-opacity="0.34" stroke-width="0.45" stroke-linejoin="round"/>
<path d="M465.86 504.03L485.02 498.39L474.36 488.32L455.21 493.96ZM455.21 546.56L465.86 556.63L465.86 504.03L455.21 493.96ZM465.86 556.63L485.02 550.99L485.02 498.39L465.86 504.03Z" fill="rgb(36,219,255)" stroke="#000" stroke-opacity="0.34" stroke-width="0.45" stroke-linejoin="round"/>
<path d="M441.92 537.48L461.08 531.84L450.42 521.77L431.27 527.41ZM431.27 553.61L441.92 563.68L441.92 537.48L431.27 527.41ZM441.92 563.68L461.08 558.04L461.08 531.84L441.92 537.48Z" fill="rgb(36,219,255)" stroke="#000" stroke-opacity="0.34" stroke-width="0.45" stroke-linejoin="round"/>
<path d="M417.98 550.23L437.14 544.59L426.48 534.52L407.33 540.16ZM407.33 560.66L417.98 570.73L417.98 550.23L407.33 540.16ZM417.98 570.73L437.14 565.09L437.14 544.59L417.98 550.23Z" fill="rgb(36,219,255)" stroke="#000" stroke-opacity="0.34" stroke-width="0.45" stroke-linejoin="round"/>
<path d="M394.04 555.78L413.20 550.14L402.54 540.07L383.39 545.71ZM383.39 567.71L394.04 577.78L394.04 555.78L383.39 545.71ZM394.04 577.78L413.20 572.14L413.20 550.14L394.04 555.78Z" fill="rgb(36,219,255)" stroke="#000" stroke-opacity="0.34" stroke-width="0.45" stroke-linejoin="round"/>
<path d="M551.00 452.77L570.16 447.13L559.50 437.06L540.35 442.70ZM540.35 538.00L551.00 548.07L551.00 452.77L540.35 442.70ZM551.00 548.07L570.16 542.43L570.16 447.13L551.00 452.77Z" fill="rgb(0,255,255)" stroke="#000" stroke-opacity="0.34" stroke-width="0.45" stroke-linejoin="round"/>
<path d="M527.06 484.22L546.22 478.58L535.56 468.51L516.41 474.15ZM516.41 545.05L527.06 555.12L527.06 484.22L516.41 474.15ZM527.06 555.12L546.22 549.48L546.22 478.58L527.06 484.22Z" fill="rgb(0,255,255)" stroke="#000" stroke-opacity="0.34" stroke-width="0.45" stroke-linejoin="round"/>
<path d="M503.12 491.67L522.28 486.03L511.62 475.96L492.47 481.60ZM492.47 552.10L503.12 562.17L503.12 491.67L492.47 481.60ZM503.12 562.17L522.28 556.53L522.28 486.03L503.12 491.67Z" fill="rgb(0,255,255)" stroke="#000" stroke-opacity="0.34" stroke-width="0.45" stroke-linejoin="round"/>
<path d="M479.18 527.42L498.34 521.78L487.68 511.71L468.53 517.35ZM468.53 559.15L479.18 569.22L479.18 527.42L468.53 517.35ZM479.18 569.22L498.34 563.58L498.34 521.78L479.18 527.42Z" fill="rgb(0,255,255)" stroke="#000" stroke-opacity="0.34" stroke-width="0.45" stroke-linejoin="round"/>
<path d="M455.24 554.77L474.40 549.13L463.74 539.06L444.59 544.70ZM444.59 566.20L455.24 576.27L455.24 554.77L444.59 544.70ZM455.24 576.27L474.40 570.63L474.40 549.13L455.24 554.77Z" fill="rgb(0,255,255)" stroke="#000" stroke-opacity="0.34" stroke-width="0.45" stroke-linejoin="round"/>
<path d="M431.30 568.02L450.46 562.38L439.80 552.31L420.65 557.95ZM420.65 573.25L431.30 583.32L431.30 568.02L420.65 557.95ZM431.30 583.32L450.46 577.68L450.46 562.38L431.30 568.02Z" fill="rgb(0,255,255)" stroke="#000" stroke-opacity="0.34" stroke-width="0.45" stroke-linejoin="round"/>
<path d="M407.36 574.87L426.52 569.23L415.86 559.16L396.71 564.80ZM396.71 580.30L407.36 590.37L407.36 574.87L396.71 564.80ZM407.36 590.37L426.52 584.73L426.52 569.23L407.36 574.87Z" fill="rgb(0,255,255)" stroke="#000" stroke-opacity="0.34" stroke-width="0.45" stroke-linejoin="round"/>
<text x="284.2" y="385.9" font-size="13" text-anchor="end" fill="#1a1a1a" stroke="#1a1a1a" stroke-width="0.22">10<tspan font-size="9" dy="-5.6">−4</tspan></text>
<text x="284.2" y="424.3" font-size="13" text-anchor="end" fill="#1a1a1a" stroke="#1a1a1a" stroke-width="0.22">10<tspan font-size="9" dy="-5.6">−6</tspan></text>
<text x="284.2" y="462.8" font-size="13" text-anchor="end" fill="#1a1a1a" stroke="#1a1a1a" stroke-width="0.22">10<tspan font-size="9" dy="-5.6">−8</tspan></text>
<text x="284.2" y="501.2" font-size="13" text-anchor="end" fill="#1a1a1a" stroke="#1a1a1a" stroke-width="0.22">10<tspan font-size="9" dy="-5.6">−10</tspan></text>
<text transform="translate(242.1 438.8) rotate(-90)" font-size="13" text-anchor="middle" fill="#1a1a1a" stroke="#1a1a1a" stroke-width="0.22">Energy (J)</text>
<text x="290.6" y="514.5" font-size="13" text-anchor="end" fill="#1a1a1a" stroke="#1a1a1a" stroke-width="0.22">400</text>
<text x="304.0" y="527.1" font-size="13" text-anchor="end" fill="#1a1a1a" stroke="#1a1a1a" stroke-width="0.22">350</text>
<text x="317.4" y="539.7" font-size="13" text-anchor="end" fill="#1a1a1a" stroke="#1a1a1a" stroke-width="0.22">300</text>
<text x="330.8" y="552.2" font-size="13" text-anchor="end" fill="#1a1a1a" stroke="#1a1a1a" stroke-width="0.22">250</text>
<text x="344.2" y="564.8" font-size="13" text-anchor="end" fill="#1a1a1a" stroke="#1a1a1a" stroke-width="0.22">200</text>
<text x="357.6" y="577.4" font-size="13" text-anchor="end" fill="#1a1a1a" stroke="#1a1a1a" stroke-width="0.22">150</text>
<text x="371.0" y="590.0" font-size="13" text-anchor="end" fill="#1a1a1a" stroke="#1a1a1a" stroke-width="0.22">100</text>
<text x="384.4" y="602.6" font-size="13" text-anchor="end" fill="#1a1a1a" stroke="#1a1a1a" stroke-width="0.22">50</text>
<text x="419.5" y="602.0" font-size="13" fill="#1a1a1a" stroke="#1a1a1a" stroke-width="0.22">0</text>
<text x="443.4" y="595.0" font-size="13" fill="#1a1a1a" stroke="#1a1a1a" stroke-width="0.22">0.2</text>
<text x="467.2" y="588.1" font-size="13" fill="#1a1a1a" stroke="#1a1a1a" stroke-width="0.22">0.3</text>
<text x="491.1" y="581.1" font-size="13" fill="#1a1a1a" stroke="#1a1a1a" stroke-width="0.22">0.4</text>
<text x="514.9" y="574.1" font-size="13" fill="#1a1a1a" stroke="#1a1a1a" stroke-width="0.22">0.5</text>
<text x="538.8" y="567.1" font-size="13" fill="#1a1a1a" stroke="#1a1a1a" stroke-width="0.22">0.6</text>
<text x="562.6" y="560.2" font-size="13" fill="#1a1a1a" stroke="#1a1a1a" stroke-width="0.22">0.7</text>
<text transform="translate(295.3 565.8) rotate(43.4)" font-size="12.5" text-anchor="middle" fill="#1a1a1a" stroke="#1a1a1a" stroke-width="0.22"><tspan font-style="italic">T</tspan><tspan font-size="8.2" dy="3.2">P</tspan><tspan dy="-3.2"> (s)</tspan></text>
<text transform="translate(513.6 598.9) rotate(-16.4)" font-size="13" text-anchor="middle" fill="#1a1a1a" stroke="#1a1a1a" stroke-width="0.22">Noise (<tspan font-family="'Liberation Serif','DejaVu Serif',serif" font-style="italic" font-size="13.5">σ</tspan>)</text>
</g>
<text x="671.7" y="628.3" font-size="19.3" fill="#c6e8be" stroke="#c6e8be" stroke-width="0.22">www.cntronics.com</text>
<rect x="0.5" y="0.5" width="855" height="636" fill="none" stroke="#333" stroke-width="1.2"/>
</svg></body></html>
